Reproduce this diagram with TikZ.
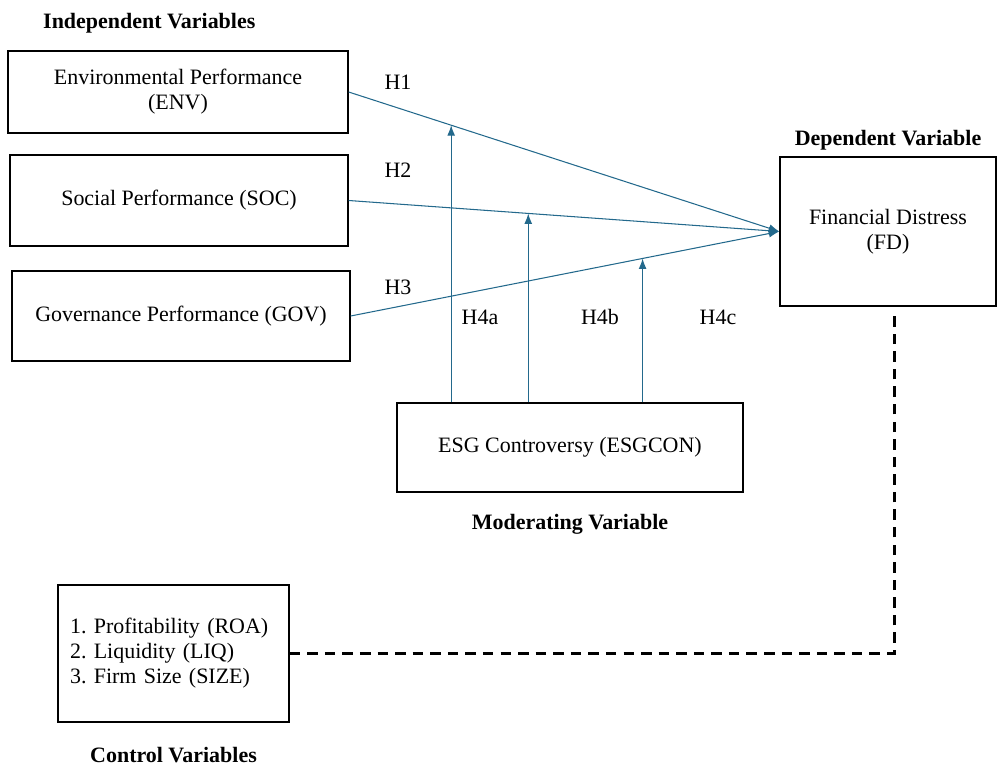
\documentclass[tikz,border=0pt]{standalone}
\usepackage{fontspec}
\setmainfont{Liberation Serif}
\frenchspacing
\usepackage{xcolor}
\usetikzlibrary{positioning, arrows, arrows.meta, calc}
\definecolor{lineblue}{RGB}{35,105,140}

\begin{document}
\begin{tikzpicture}[x=0.02cm, y=-0.02cm, font=\fontsize{12.5}{14.2}\selectfont,
  var/.style={draw, thick, align=center, inner sep=0pt},
  heading/.style={font=\fontsize{12.5}{14}\selectfont\bfseries},
  link/.style={draw=lineblue, semithick, -{Latex[length=6pt, width=4.5pt]}}]
  \useasboundingbox (0,0) rectangle (998,767);
  \node[var, minimum width=6.8cm, minimum height=1.64cm] (env) at (178,92) {Environmental Performance\\(ENV)};
  \node[var, minimum width=6.76cm, minimum height=1.82cm] (soc) at (179,200.5) {Social Performance (SOC)};
  \node[var, minimum width=6.76cm, minimum height=1.8cm] (gov) at (181,316) {Governance Performance (GOV)};
  \node[var, minimum width=4.32cm, minimum height=2.98cm] (fd) at (888,231.5) {Financial Distress\\(FD)};
  \node[var, minimum width=6.92cm, minimum height=1.78cm] (esg) at (570,447.5) {ESG Controversy (ESGCON)};
  \node[var, minimum height=2.74cm, align=left, text width=4.14cm, inner xsep=0.24cm] (ctrl) at (173.5,653.5) {1. Profitability (ROA)\\2. Liquidity (LIQ)\\3. Firm Size (SIZE)};
  \node[heading, anchor=west] (indep) at (37,23) {Independent Variables};
  \node[heading, above=0pt of fd] (dep) {Dependent Variable};
  \node[heading, below=0.3cm of esg] (mod) {Moderating Variable};
  \node[heading, below=0.36cm of ctrl] (ctrlvar) {Control Variables};
  \foreach \y/\h in {82/H1, 170/H2, 287/H3}
    \node (lab-\h) at (398,\y) {\h};
  \foreach \x/\h in {480/H4a, 600/H4b, 718/H4c}
    \node (lab-\h) at (\x,317) {\h};
  % direct effects
  \draw[link] (env.east) -- (fd.west);
  \draw[link] (soc.east) -- (fd.west);
  \draw[link] (gov.east) -- (fd.west);
  % moderation
  \coordinate (m1) at ($(env.east)!0.238!(fd.west)$);
  \coordinate (m2) at ($(soc.east)!0.417!(fd.west)$);
  \coordinate (m3) at ($(gov.east)!0.681!(fd.west)$);
  \draw[link] (esg.north -| m1) -- (m1);
  \draw[link] (esg.north -| m2) -- (m2);
  \draw[link] (esg.north -| m3) -- (m3);
  \coordinate (fdlow) at ($(fd.south)+(6,9)$);
  \draw[line width=1.7pt, dash pattern=on 6pt off 4pt] (ctrl.east) -| (fdlow);
\end{tikzpicture}
\end{document}
